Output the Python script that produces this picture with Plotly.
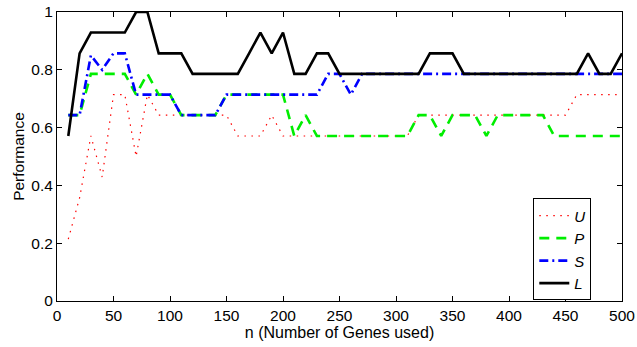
import plotly.graph_objects as go

n_genes = list(range(10, 501, 10))

U = [0.214, 0.357, 0.571, 0.429, 0.714, 0.714, 0.5, 0.714, 0.643,
     0.643, 0.643, 0.643, 0.643, 0.643, 0.643,
     0.571, 0.571, 0.571, 0.643, 0.571,
     0.571, 0.571, 0.571, 0.571, 0.571, 0.571, 0.571, 0.571, 0.571, 0.571, 0.571,
     0.643, 0.643, 0.643, 0.643, 0.643, 0.643, 0.643, 0.643, 0.643, 0.643, 0.643, 0.643, 0.643, 0.643,
     0.714, 0.714, 0.714, 0.714, 0.714]

P = [0.643, 0.643, 0.786, 0.786, 0.786, 0.786, 0.714, 0.786, 0.714, 0.714,
     0.643, 0.643, 0.643, 0.643,
     0.714, 0.714, 0.714, 0.714, 0.714, 0.714,
     0.571, 0.643, 0.571,
     0.571, 0.571, 0.571, 0.571, 0.571, 0.571, 0.571, 0.571,
     0.643, 0.643, 0.571, 0.643, 0.643, 0.643, 0.571,
     0.643, 0.643, 0.643, 0.643, 0.643,
     0.571, 0.571, 0.571, 0.571, 0.571, 0.571, 0.571]

S = [0.643, 0.643, 0.85, 0.8, 0.857, 0.857,
     0.714, 0.714, 0.714, 0.714,
     0.643, 0.643, 0.643, 0.643,
     0.714, 0.714, 0.714, 0.714, 0.714, 0.714, 0.714, 0.714, 0.714,
     0.786, 0.786, 0.714] + [0.786] * 24

L = [0.571, 0.857, 0.929, 0.929, 0.929, 0.929, 1.0, 1.0,
     0.857, 0.857, 0.857,
     0.786, 0.786, 0.786, 0.786, 0.786,
     0.857, 0.929, 0.857, 0.929,
     0.786, 0.786, 0.857, 0.857,
     0.786, 0.786, 0.786, 0.786, 0.786, 0.786, 0.786, 0.786,
     0.857, 0.857, 0.857] + [0.786] * 11 + [0.857, 0.786, 0.786, 0.857]

x_ticks = list(range(0, 501, 50))
y_ticks = [0, 0.2, 0.4, 0.6, 0.8, 1]
y_tick_text = ["0", "0.2", "0.4", "0.6", "0.8", "1"]

series = [
    ("<i>U</i>", U, "#ff0000", 1.2, "1.5px,5.5px"),
    ("<i>P</i>", P, "#00ee00", 2.6, "10px,7px"),
    ("<i>S</i>", S, "#0000ff", 2.6, "9px,4px,2px,4px"),
    ("<i>L</i>", L, "#000000", 2.6, "solid"),
]

fig = go.Figure()
for name, ys, color, width, dash in series:
    fig.add_trace(go.Scatter(x=n_genes, y=ys, mode="lines", name=name,
                             line=dict(color=color, width=width, dash=dash)))

font_family = "Liberation Sans, Arial, sans-serif"
axis_common = dict(showline=True, linecolor="black", linewidth=1, mirror="ticks",
                   ticks="inside", ticklen=5, tickcolor="black", showgrid=False,
                   zeroline=False, tickfont=dict(size=15.5, color="black", family=font_family))

fig.update_layout(
    width=637, height=347,
    margin=dict(l=57, r=15, t=12, b=46, autoexpand=False),
    paper_bgcolor="white", plot_bgcolor="white",
    font=dict(family=font_family, color="black"),
    xaxis=dict(range=[0, 500], tickvals=x_ticks,
               title=dict(text="n (Number of Genes used)", font=dict(size=16), standoff=2),
               **axis_common),
    yaxis=dict(range=[0, 1], tickvals=y_ticks, ticktext=y_tick_text,
               title=dict(text="Performance", font=dict(size=15.5), standoff=2),
               **axis_common),
    legend=dict(x=0.843, y=0.355, xanchor="left", yanchor="top",
                bgcolor="white", bordercolor="black", borderwidth=1,
                font=dict(size=15, family=font_family), itemwidth=30,
                tracegroupgap=0),
    showlegend=True,
)

fig.write_html("out.html", config={"displayModeBar": False},
               post_script="document.body.style.margin='0px';")
